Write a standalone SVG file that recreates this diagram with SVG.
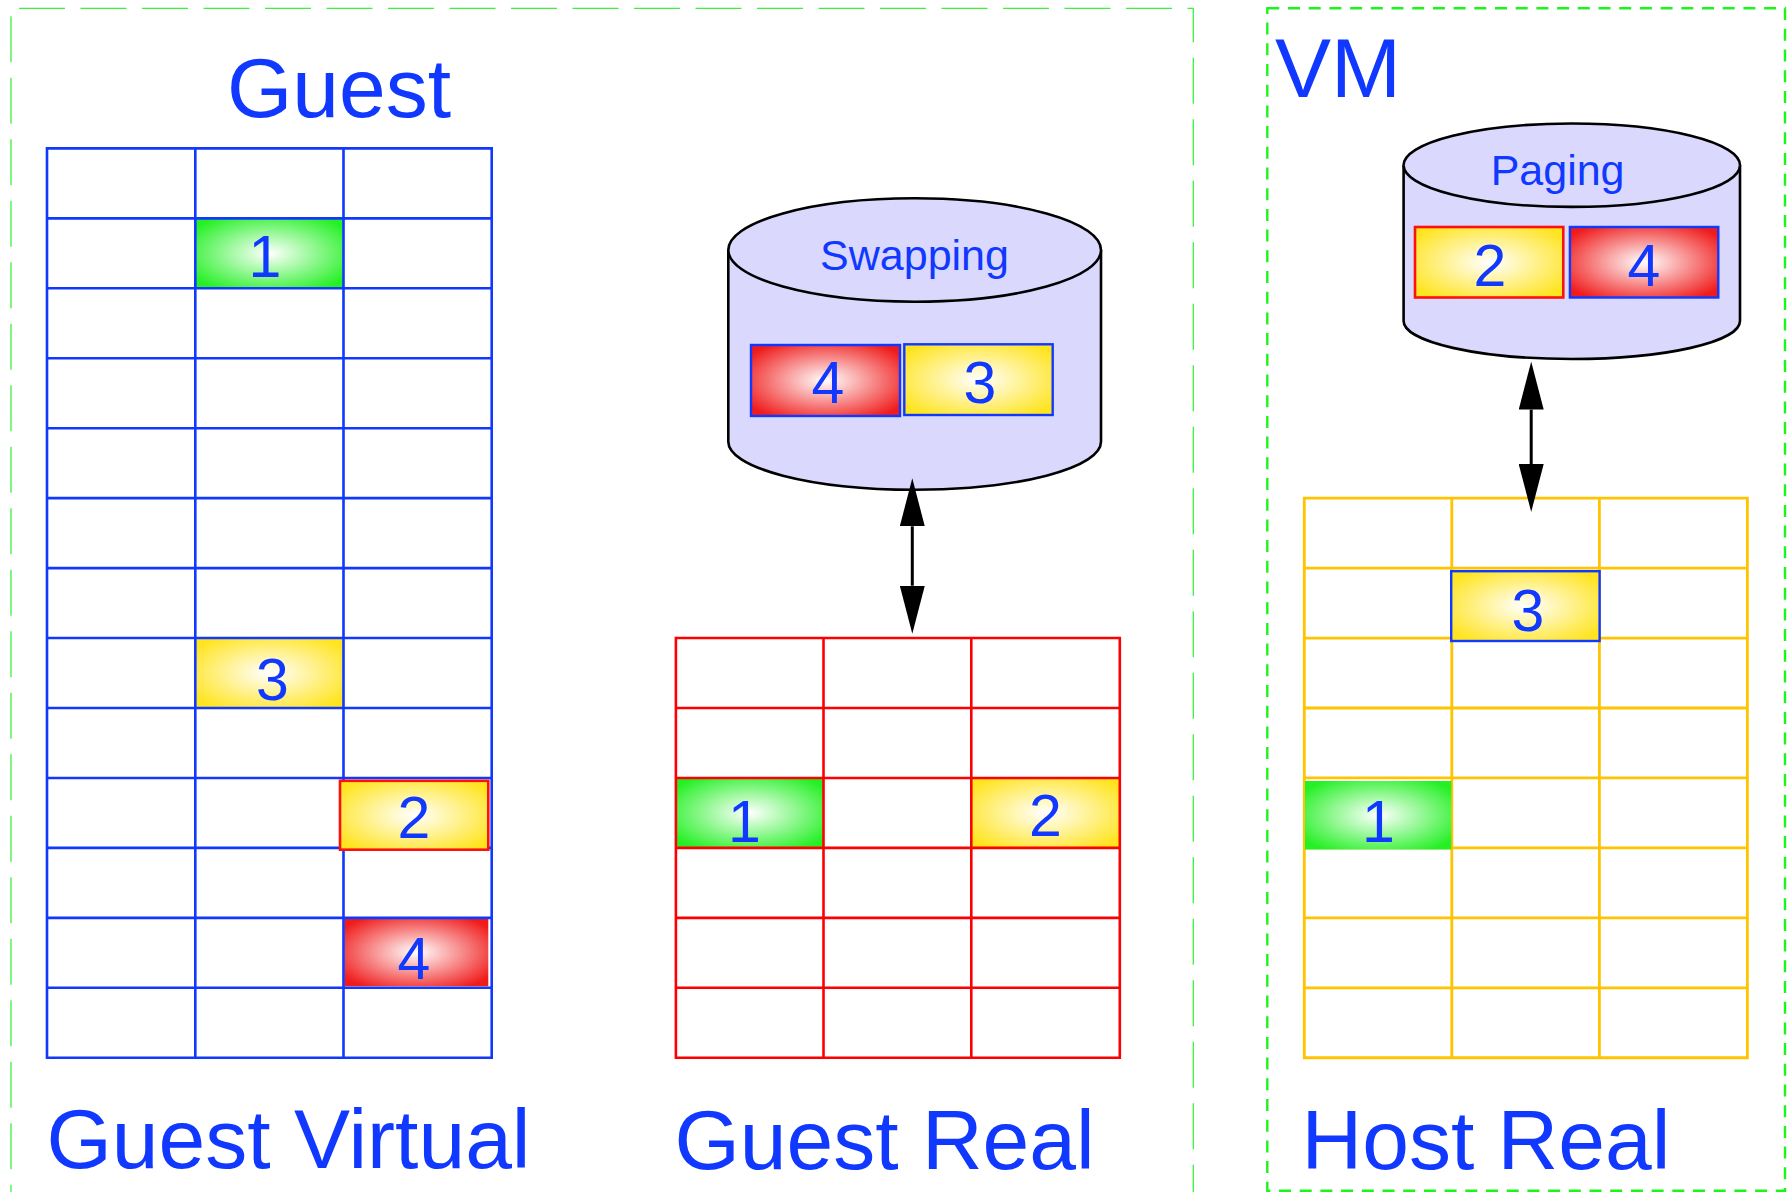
<svg xmlns="http://www.w3.org/2000/svg" width="1791" height="1192" viewBox="0 0 1791 1192">
  <style>
    .title { font-family: "Liberation Sans", Arial, sans-serif; font-size: 84px; fill: #1038ff; }
    .num { font-family: "Liberation Sans", Arial, sans-serif; font-size: 59px; fill: #1038ff; text-anchor: middle; }
    .store { font-family: "Liberation Sans", Arial, sans-serif; font-size: 43px; fill: #1038ff; text-anchor: middle; }
    .grid-blue { fill: none; stroke: #1038ff; stroke-width: 2.6; }
    .grid-red { fill: none; stroke: #ff0000; stroke-width: 2.6; }
    .grid-gold { fill: none; stroke: #ffc300; stroke-width: 2.8; }
    .cyl { fill: #dad8fd; stroke: #000; stroke-width: 2.6; stroke-linejoin: round; }
    .edge-blue { stroke: #1038ff; stroke-width: 2.4; }
    .edge-red { stroke: #ff1010; stroke-width: 2.6; }
    .link { stroke: #000; stroke-width: 3; fill: none; }
  </style>
  <defs>
    <radialGradient id="gGreen" cx="0.5" cy="0.5" r="0.62">
      <stop offset="0" stop-color="#ffffff"/>
      <stop offset="1" stop-color="#25f025"/>
    </radialGradient>
    <radialGradient id="gYellow" cx="0.5" cy="0.5" r="0.62">
      <stop offset="0" stop-color="#ffffff"/>
      <stop offset="1" stop-color="#ffe41e"/>
    </radialGradient>
    <radialGradient id="gRed" cx="0.5" cy="0.5" r="0.62">
      <stop offset="0" stop-color="#ffffff"/>
      <stop offset="1" stop-color="#f01c1c"/>
    </radialGradient>
    <marker id="head" viewBox="0 0 48 25" markerWidth="48" markerHeight="25" refX="0" refY="12.5" orient="auto-start-reverse" markerUnits="userSpaceOnUse">
      <path d="M0,0 L48,12.5 L0,25 Z" fill="#000"/>
    </marker>
  </defs>

  <rect width="1791" height="1192" fill="#ffffff"/>

  <!-- outer frames -->
  <g id="guest-frame" fill="none" stroke="#3ef03e" stroke-width="1.3">
    <line x1="11" y1="8.3" x2="1193.3" y2="8.3" stroke-dasharray="46 15.5" stroke-dashoffset="-8"/>
    <line x1="11" y1="8.3" x2="11" y2="1200" stroke-dasharray="46 15.5" stroke-dashoffset="-8"/>
    <line x1="1193.3" y1="8.3" x2="1193.3" y2="1200" stroke-dasharray="46 15.5" stroke-dashoffset="12"/>
  </g>
  <g id="vm-frame">
    <rect x="1267.3" y="8.3" width="517.7" height="1182.5" fill="none" stroke="#1cf51c" stroke-width="2.4" stroke-dasharray="12 8.7"/>
  </g>

  <!-- headings -->
  <g id="labels">
    <text class="title" x="227" y="116.7">Guest</text>
    <text class="title" x="1275" y="96.6">VM</text>
    <text class="title" x="46.5" y="1168">Guest Virtual</text>
    <text class="title" x="674.5" y="1168.5">Guest Real</text>
    <text class="title" x="1301.5" y="1168.5">Host Real</text>
  </g>

  <!-- guest virtual memory -->
  <g id="guest-virtual">
    <rect x="195.3" y="218.35" width="148.2" height="69.95" fill="url(#gGreen)"/>
    <rect x="195.3" y="638.05" width="148.2" height="69.95" fill="url(#gYellow)"/>
    <rect x="344.3" y="918.3" width="144" height="68" fill="url(#gRed)"/>
    <path class="grid-blue" d="M47,148.4 H491.7 V1057.75 H47 Z
      M195.3,148.4 V1057.75 M343.5,148.4 V1057.75
      M47,218.35 H491.7 M47,288.3 H491.7 M47,358.25 H491.7 M47,428.2 H491.7
      M47,498.15 H491.7 M47,568.1 H491.7 M47,638.05 H491.7 M47,708 H491.7
      M47,777.95 H491.7 M47,847.9 H491.7 M47,917.85 H491.7 M47,987.8 H491.7"/>
    <rect class="edge-red" x="340" y="780.8" width="148.3" height="68.9" fill="url(#gYellow)"/>
    <text class="num" x="265" y="276.5">1</text>
    <text class="num" x="272.5" y="699.8">3</text>
    <text class="num" x="414" y="838">2</text>
    <text class="num" x="414" y="978.5">4</text>
  </g>

  <!-- guest real memory -->
  <g id="guest-real">
    <rect x="675.9" y="777.95" width="147.6" height="69.95" fill="url(#gGreen)"/>
    <rect x="971.3" y="777.95" width="148.5" height="69.95" fill="url(#gYellow)"/>
    <path class="grid-red" d="M675.9,638.05 H1119.8 V1057.75 H675.9 Z
      M823.5,638.05 V1057.75 M971.3,638.05 V1057.75
      M675.9,708 H1119.8 M675.9,777.95 H1119.8 M675.9,847.9 H1119.8
      M675.9,917.85 H1119.8 M675.9,987.8 H1119.8"/>
    <text class="num" x="744.5" y="841.5">1</text>
    <text class="num" x="1045.5" y="836">2</text>
  </g>

  <!-- host real memory -->
  <g id="host-real">
    <path class="grid-gold" d="M1304.3,498.15 H1747.4 V1057.75 H1304.3 Z
      M1451.8,498.15 V1057.75 M1599.4,498.15 V1057.75
      M1304.3,568.1 H1747.4 M1304.3,638.05 H1747.4 M1304.3,708 H1747.4
      M1304.3,777.95 H1747.4 M1304.3,847.9 H1747.4 M1304.3,917.85 H1747.4
      M1304.3,987.8 H1747.4"/>
    <rect x="1305" y="781" width="146.3" height="68.5" fill="url(#gGreen)"/>
    <rect class="edge-blue" x="1451.2" y="571.2" width="148.4" height="69.8" fill="url(#gYellow)"/>
    <text class="num" x="1528" y="630.6">3</text>
    <text class="num" x="1378.5" y="841.5">1</text>
  </g>

  <!-- guest swap device -->
  <g id="swapping">
    <path class="cyl" d="M728.3,250 V441.7 A186.35,48 0 0 0 1101,441.7 V250 A186.35,51.7 0 0 0 728.3,250 Z"/>
    <path class="cyl" fill="none" d="M728.3,250 A186.35,51.7 0 0 0 1101,250"/>
    <text class="store" x="914.5" y="270">Swapping</text>
    <rect class="edge-blue" x="751" y="345" width="149" height="71" fill="url(#gRed)"/>
    <rect class="edge-blue" x="904.3" y="344.3" width="148.4" height="70.7" fill="url(#gYellow)"/>
    <text class="num" x="828" y="402.7">4</text>
    <text class="num" x="980" y="403">3</text>
  </g>

  <!-- host paging device -->
  <g id="paging">
    <path class="cyl" d="M1403.6,165.2 V321 A168.2,38 0 0 0 1740,321 V165.2 A168.2,41.7 0 0 0 1403.6,165.2 Z"/>
    <path class="cyl" fill="none" d="M1403.6,165.2 A168.2,41.7 0 0 0 1740,165.2"/>
    <text class="store" x="1557.6" y="184.6">Paging</text>
    <rect class="edge-red" x="1415" y="227" width="148.3" height="70.5" fill="url(#gYellow)"/>
    <rect class="edge-blue" x="1569.9" y="227" width="148.4" height="70.5" fill="url(#gRed)"/>
    <text class="num" x="1490" y="285.7">2</text>
    <text class="num" x="1644" y="285.7">4</text>
  </g>

  <!-- transfers between memory and backing store -->
  <g id="connectors">
    <path class="link" d="M912.3,526.3 V585.7" marker-start="url(#head)" marker-end="url(#head)"/>
    <path class="link" d="M1531.2,409.6 V464" marker-start="url(#head)" marker-end="url(#head)"/>
  </g>
</svg>
